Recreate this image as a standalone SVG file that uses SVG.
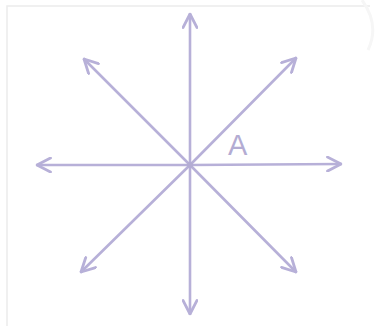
<svg xmlns="http://www.w3.org/2000/svg" width="379" height="326" viewBox="0 0 379 326">
<style>
.ray{stroke:#b7b0d8;stroke-width:2.6;fill:none;stroke-linecap:round}
.lbl{font-family:"Liberation Sans",Arial,sans-serif;font-size:29px;fill:#b3acd3}
.frame{stroke:#ececec;stroke-width:1.5;fill:none}
</style>
<defs>
<marker id="open" viewBox="0 0 16 16" refX="15" refY="8" markerWidth="16" markerHeight="16" markerUnits="userSpaceOnUse" orient="auto">
<path d="M1.5,1 L15,8 L1.5,15" fill="none" stroke="#b7b0d8" stroke-width="2.8" stroke-linecap="round" stroke-linejoin="round"/>
</marker>
</defs>
<rect width="379" height="326" fill="#ffffff"/>
<path class="frame" d="M7,326 L7,6 L370,6"/>
<path d="M362,0 Q380,25 368,50" stroke="#f6f6f6" stroke-width="3" fill="none"/>
<g id="connectors">
<line class="ray" x1="190" y1="165" x2="190" y2="14" marker-end="url(#open)"/>
<line class="ray" x1="190" y1="165" x2="190" y2="314" marker-end="url(#open)"/>
<line class="ray" x1="190" y1="165" x2="37" y2="165" marker-end="url(#open)"/>
<line class="ray" x1="190" y1="165" x2="341" y2="164" marker-end="url(#open)"/>
<line class="ray" x1="190" y1="165" x2="84" y2="59" marker-end="url(#open)"/>
<line class="ray" x1="190" y1="165" x2="296" y2="58" marker-end="url(#open)"/>
<line class="ray" x1="190" y1="165" x2="81" y2="272" marker-end="url(#open)"/>
<line class="ray" x1="190" y1="165" x2="296" y2="272" marker-end="url(#open)"/>
</g>
<g id="center"><circle cx="190" cy="165" r="3" fill="#b3acd3"/></g>
<g id="label-A"><text class="lbl" x="228" y="155">A</text></g>
</svg>
